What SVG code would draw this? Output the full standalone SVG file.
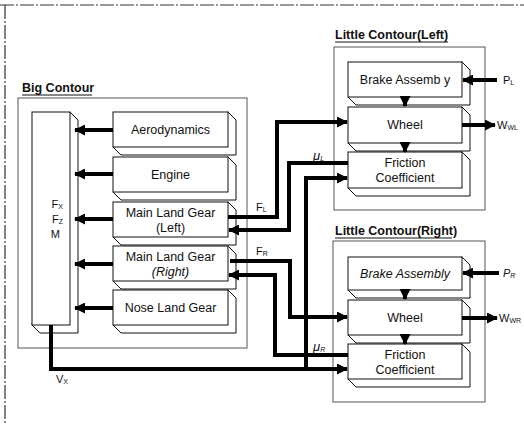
<svg xmlns="http://www.w3.org/2000/svg" width="524" height="424" viewBox="0 0 524 424">
<defs>
<marker id="ah" markerUnits="userSpaceOnUse" markerWidth="11" markerHeight="11" refX="10" refY="5.5" orient="auto">
<path d="M0,0 L11,5.5 L0,11 z" fill="#000"/>
</marker>
<style>
text{font-family:"Liberation Sans",Arial,sans-serif;fill:#111}
.lbl{font-size:12.5px;text-anchor:middle}
.ttl{font-size:12.5px;font-weight:bold}
.sm{font-size:11px}
.mu{font-size:13px}
.sub{font-size:7px}
.it{font-style:italic}
.front{fill:#fff;stroke:#111;stroke-width:1}
.back{fill:#fff;stroke:#111;stroke-width:1}
.cont{fill:none;stroke:#555;stroke-width:1}
.frame{fill:none;stroke:#333;stroke-width:1.2;stroke-dasharray:14 2 2 2}
.ul{stroke:#111;stroke-width:1}
.conn path{fill:none;stroke:#000;stroke-width:4;stroke-linejoin:miter}
.conn .a{marker-end:url(#ah)}
</style>
</defs>
<rect width="524" height="424" fill="#fff"/>
<line class="frame" x1="0" y1="5" x2="524" y2="5"/>
<line class="frame" x1="5" y1="5" x2="5" y2="424"/>

<g id="big-contour">
<text class="ttl" x="22" y="92">Big Contour</text>
<line class="ul" x1="22" y1="95" x2="92" y2="95"/>
<rect class="cont" x="18" y="98" width="229" height="250"/>
</g>
<g id="little-contour-left">
<text class="ttl" x="335" y="39">Little Contour(Left)</text>
<line class="ul" x1="335" y1="42" x2="448" y2="42"/>
<rect class="cont" x="334" y="47" width="151" height="163"/>
</g>
<g id="little-contour-right">
<text class="ttl" x="335" y="235">Little Contour(Right)</text>
<line class="ul" x1="335" y1="238" x2="452" y2="238"/>
<rect class="cont" x="333" y="241" width="152" height="161"/>
</g>

<g id="body">
<path class="back" d="M70,112 L78,120 L78,333 L40,333 L32,325 Z"/>
<rect class="front" x="32" y="112" width="38" height="213"/>
<text class="sm" x="63" y="208" text-anchor="end">F<tspan class="sub" dy="1">X</tspan></text>
<text class="sm" x="63" y="223" text-anchor="end">F<tspan class="sub" dy="1">Z</tspan></text>
<text class="sm" x="60" y="238" text-anchor="end">M</text>
</g>
<g id="aerodynamics">
<path class="back" d="M228,112 L236,120 L236,155 L121,155 L113,147 Z"/>
<rect class="front" x="113" y="112" width="115" height="35"/>
<text class="lbl" x="170.5" y="134">Aerodynamics</text>
</g>
<g id="engine">
<path class="back" d="M228,157 L236,165 L236,200 L121,200 L113,192 Z"/>
<rect class="front" x="113" y="157" width="115" height="35"/>
<text class="lbl" x="170.5" y="179">Engine</text>
</g>
<g id="mlg-left">
<path class="back" d="M228,202 L236,210 L236,245 L121,245 L113,237 Z"/>
<rect class="front" x="113" y="202" width="115" height="35"/>
<text class="lbl" x="170.5" y="217">Main Land Gear</text>
<text class="lbl" x="170.5" y="232">(Left)</text>
</g>
<g id="mlg-right">
<path class="back" d="M228,246 L236,254 L236,289 L121,289 L113,281 Z"/>
<rect class="front" x="113" y="246" width="115" height="35"/>
<text class="lbl" x="170.5" y="261">Main Land Gear</text>
<text class="lbl it" x="170.5" y="276">(Right)</text>
</g>
<g id="nose-gear">
<path class="back" d="M228,290 L236,298 L236,333 L121,333 L113,325 Z"/>
<rect class="front" x="113" y="290" width="115" height="35"/>
<text class="lbl" x="170.5" y="312">Nose Land Gear</text>
</g>

<g id="brake-left">
<path class="back" d="M462,62 L470,70 L470,105 L356,105 L348,97 Z"/>
<rect class="front" x="348" y="62" width="114" height="35"/>
<text class="lbl" x="405" y="84">Brake Assemb y</text>
</g>
<g id="wheel-left">
<path class="back" d="M462,107 L470,115 L470,151 L356,151 L348,143 Z"/>
<rect class="front" x="348" y="107" width="114" height="36"/>
<text class="lbl" x="405" y="129">Wheel</text>
</g>
<g id="friction-left">
<path class="back" d="M462,152 L470,160 L470,196 L356,196 L348,188 Z"/>
<rect class="front" x="348" y="152" width="114" height="36"/>
<text class="lbl" x="405" y="167">Friction</text>
<text class="lbl" x="405" y="182">Coefficient</text>
</g>

<g id="brake-right">
<path class="back" d="M462,257 L470,265 L470,298 L356,298 L348,290 Z"/>
<rect class="front" x="348" y="257" width="114" height="33"/>
<text class="lbl it" x="405" y="278">Brake Assembly</text>
</g>
<g id="wheel-right">
<path class="back" d="M462,300 L470,308 L470,343 L356,343 L348,335 Z"/>
<rect class="front" x="348" y="300" width="114" height="35"/>
<text class="lbl" x="405" y="322">Wheel</text>
</g>
<g id="friction-right">
<path class="back" d="M462,344 L470,352 L470,387 L356,387 L348,379 Z"/>
<rect class="front" x="348" y="344" width="114" height="35"/>
<text class="lbl" x="405" y="359">Friction</text>
<text class="lbl" x="405" y="374">Coefficient</text>
</g>

<g id="connectors" class="conn">
<path class="a" d="M113,130 H75"/>
<path class="a" d="M113,174 H75"/>
<path class="a" d="M113,219 H75"/>
<path class="a" d="M113,264 H75"/>
<path class="a" d="M113,308 H75"/>
<path class="a" d="M228,217 H277 V122 H347"/>
<path class="a" d="M348,163 H289 V230 H229"/>
<path class="a" d="M51,325 V369 H347"/>
<path class="a" d="M306,369 V178 H347"/>
<path class="a" d="M230,261 H290 V317 H347"/>
<path class="a" d="M348,355 H275 V275 H229"/>
<path class="a" d="M405,97 V106"/>
<path class="a" d="M405,143 V152"/>
<path class="a" d="M405,290 V299"/>
<path class="a" d="M405,335 V344"/>
<path class="a" d="M497,80 H463"/>
<path class="a" d="M462,125 H495"/>
<path class="a" d="M499,273 H463"/>
<path class="a" d="M462,318 H497"/>
</g>

<g id="labels">
<text class="sm" x="256" y="211">F<tspan class="sub" dy="1">L</tspan></text>
<text class="sm" x="256" y="255">F<tspan class="sub" dy="1">R</tspan></text>
<text class="mu it" x="313" y="160">μ<tspan class="sub" dy="1">L</tspan></text>
<text class="mu it" x="313" y="351">μ<tspan class="sub" dy="1">R</tspan></text>
<text class="sm" x="56" y="383">V<tspan class="sub" dy="1">X</tspan></text>
<text class="sm" x="503" y="84">P<tspan class="sub" dy="1">L</tspan></text>
<text class="sm" x="497" y="129">W<tspan class="sub" dy="1">WL</tspan></text>
<text class="sm it" x="503" y="277">P<tspan class="sub" dy="1">R</tspan></text>
<text class="sm" x="499" y="322">W<tspan class="sub" dy="1">WR</tspan></text>
</g>
</svg>
